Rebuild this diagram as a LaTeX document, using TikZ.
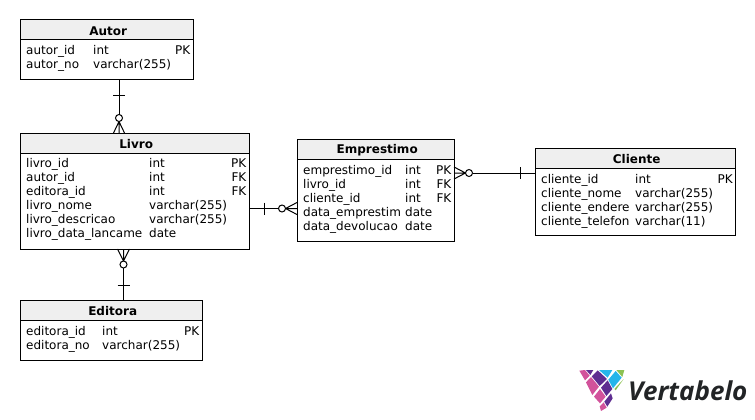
\documentclass[tikz,border=0pt]{standalone}
\usepackage{fontspec}
\setmainfont{DejaVu Sans}
\newfontfamily\logofont{Open Sans}
\definecolor{headfill}{HTML}{EFEFEF}
\definecolor{logoink}{HTML}{222426}
\definecolor{lpink}{HTML}{D2529B}
\definecolor{lpurple}{HTML}{5E2D91}
\definecolor{lblue}{HTML}{25B5EA}
\definecolor{lgreen}{HTML}{8CC152}
\tikzset{
  x=1pt,y=-1pt,
  box/.style={draw=black,line width=1pt,fill=white,inner sep=0pt,outer sep=0pt},
  headbox/.style={draw=black,line width=1pt,fill=headfill,inner sep=0pt,outer sep=0pt},
  title/.style={font=\fontsize{12}{14}\selectfont\bfseries,anchor=center,inner sep=0pt},
  cell/.style={font=\fontsize{12}{14}\selectfont,anchor=base west,inner sep=0pt},
  cellr/.style={font=\fontsize{12}{14}\selectfont,anchor=base east,inner sep=0pt},
  conn/.style={draw=black,line width=1pt},
  crowring/.style={circle,draw=black,line width=1pt,fill=white,inner sep=0pt,outer sep=0pt,minimum size=7pt},
}
\begin{document}
\begin{tikzpicture}
\useasboundingbox (0,0) rectangle (755,420);
% tables
\newcommand{\tbl}[7]{%
  \node[box,minimum width={(#3-#1)*1pt},minimum height={(#5-#2)*1pt}] (#6) at ({(#1+#3)/2},{(#2+#5)/2}) {};
  \node[headbox,minimum width={(#3-#1)*1pt},minimum height={(#4-#2)*1pt}] (#6head) at ({(#1+#3)/2},{(#2+#4)/2}) {};
  \node[title] (#6title) at ({(#1+#3)/2+1.7},{(#2+#4)/2+0.8}) {#7};
}
\newcommand{\row}[7]{%
  \node[cell] at (#1,#2) {#3};
  \node[cell] at (#4,#2) {#5};
  \node[cellr] at (#6,#2) {#7};
}
\tbl{20}{20}{193}{40}{80}{autor}{Autor}
\row{26}{55}{autor\_id}{93}{int}{190.5}{PK}
\row{26}{69}{autor\_no}{93}{varchar(255)}{190.5}{}
\tbl{20}{133}{249}{153}{249}{livro}{Livro}
\row{26}{167.5}{livro\_id}{149}{int}{246.5}{PK}
\row{26}{181.5}{autor\_id}{149}{int}{246.5}{FK}
\row{26}{195.5}{editora\_id}{149}{int}{246.5}{FK}
\row{26}{209.5}{livro\_nome}{149}{varchar(255)}{246.5}{}
\row{26}{223.5}{livro\_descricao}{149}{varchar(255)}{246.5}{}
\row{26}{237.5}{livro\_data\_lancame}{149}{date}{246.5}{}
\tbl{297}{139}{454}{159}{241}{emprestimo}{Emprestimo}
\row{303}{174}{emprestimo\_id}{405}{int}{451.5}{PK}
\row{303}{188}{livro\_id}{405}{int}{451.5}{FK}
\row{303}{202}{cliente\_id}{405}{int}{451.5}{FK}
\row{303}{216}{data\_emprestim}{405}{date}{451.5}{}
\row{303}{230}{data\_devolucao}{405}{date}{451.5}{}
\tbl{535}{148}{735}{168}{235}{cliente}{Cliente}
\row{541}{183}{cliente\_id}{635}{int}{733}{PK}
\row{541}{197}{cliente\_nome}{635}{varchar(255)}{733}{}
\row{541}{211}{cliente\_endere}{635}{varchar(255)}{733}{}
\row{541}{225}{cliente\_telefon}{635}{varchar(11)}{733}{}
\tbl{20}{300}{202}{320}{360}{editora}{Editora}
\row{26}{335}{editora\_id}{102}{int}{199.5}{PK}
\row{26}{349}{editora\_no}{102}{varchar(255)}{199.5}{}
% connectors
\node[crowring] (ra) at (119,118) {};
\draw[conn] (autor.south -| ra) -- (ra.north);
\draw[conn] (113,95) -- (125,95);
\draw[conn] (ra.south) -- (livro.north -| 113.5,0) (ra.south) -- (livro.north -| ra) (ra.south) -- (livro.north -| 124.5,0);
\node[crowring] (re) at (123.5,264.5) {};
\draw[conn] (editora.north -| re) -- (re.south);
\draw[conn] (117.5,285) -- (129.5,285);
\draw[conn] (re.north) -- (livro.south -| 117.5,0) (re.north) -- (livro.south -| re) (re.north) -- (livro.south -| 129.5,0);
\node[crowring] (rl) at (282,208.5) {};
\draw[conn] (livro.east |- rl) -- (rl.west);
\draw[conn] (264,202.5) -- (264,214.5);
\draw[conn] (rl.east) -- (emprestimo.west |- 0,202.5) (rl.east) -- (emprestimo.west |- rl) (rl.east) -- (emprestimo.west |- 0,214.5);
\node[crowring] (rc) at (469,173) {};
\draw[conn] (cliente.west |- rc) -- (rc.east);
\draw[conn] (520,167) -- (520,179);
\draw[conn] (rc.west) -- (emprestimo.east |- 0,167) (rc.west) -- (emprestimo.east |- rc) (rc.west) -- (emprestimo.east |- 0,179);
% logo
\begin{scope}[shift={(575,365)},x=0.3333pt,y=-0.3333pt]
\fill[lpink] (13,17) -- (30,15) -- (44,32) -- (30,46) -- cycle;
\fill[lpurple] (33,15) -- (55,15) -- (46,30) -- cycle;
\fill[lpink] (33,52) -- (48,36) -- (72,65) -- (52,90) -- cycle;
\fill[lpurple] (50,34) -- (68,16) -- (96,42) -- (74,63) -- cycle;
\fill[lblue] (72,15) -- (112,15) -- (98,38) -- cycle;
\fill[lpink] (57,95) -- (75,72) -- (92,95) -- (75,115) -- cycle;
\fill[lpurple] (78,68) -- (98,46) -- (112,72) -- (94,93) -- cycle;
\fill[lblue] (100,44) -- (122,18) -- (140,38) -- (114,70) -- cycle;
\fill[lgreen] (124,15) -- (148,15) -- (142,36) -- cycle;
\fill[lpink] (74,124) -- (86,112) -- (95,128) -- (78,138) -- cycle;
\fill[lpurple] (88,110) -- (108,85) -- (113,100) -- (97,125) -- cycle;
\fill[lgreen] (118,72) -- (146,42) -- (122,76) -- cycle;
\end{scope}
\node[font=\fontsize{26}{26}\selectfont\logofont\bfseries\itshape,text=logoink,anchor=base west,inner sep=0pt] (logo) at (628,400) {Vertabelo};
\end{tikzpicture}
\end{document}
